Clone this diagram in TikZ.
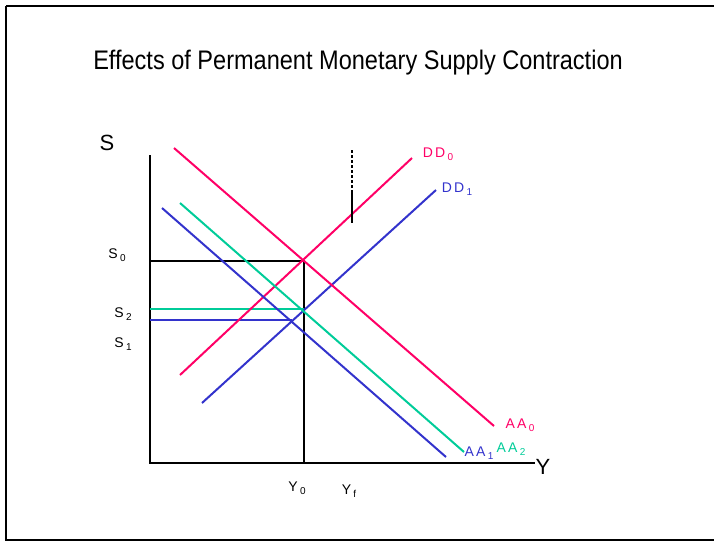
\documentclass[tikz,border=0pt]{standalone}
\usepackage{fontspec}
\setmainfont{Liberation Sans}
\definecolor{cred}{RGB}{255,0,102}
\definecolor{cblue}{RGB}{51,51,204}
\definecolor{cgreen}{RGB}{0,204,153}
\newcommand\lsub[1]{\,\raisebox{-0.35ex}{\fontsize{10}{11}\selectfont #1}}
\begin{document}
\begin{tikzpicture}[x=1pt,y=-1pt,
  axis/.style={line width=2pt,black},
  curve/.style={line width=2pt},
  lab/.style={font=\fontsize{14}{16}\selectfont,inner sep=0pt},
  big/.style={font=\fontsize{22}{24}\selectfont,inner sep=0pt}]
\useasboundingbox (0,0) rectangle (714,542);
\draw[line width=2pt] (6,6) -- (716,6);
\draw[line width=2pt] (6,6) -- (6,540) -- (716,540);
% title
\node[inner sep=0pt] (title) at (358,63) {\fontsize{22}{24}\selectfont\scalebox{1.07}[1.22]{Effects of Permanent Monetary Supply Contraction}};
% axes
\coordinate (o) at (150,463);
\coordinate (ytop) at (150,155);
\coordinate (xend) at (535,463);
\draw[axis] (ytop) -- (o) -- (xend);
\node[big] (S) at (107,143) {S};
\node[big] (Y) at (543,467) {Y};
% equilibrium lines
\coordinate (e0) at (304,261);
\coordinate (s0) at (150,261);
\coordinate (y0) at (304,463);
\draw[axis] (s0) -- (e0) -- (y0);
\coordinate (s2) at (150,309);
\coordinate (e2) at (304,309);
\draw[curve,cgreen] (s2) -- (e2);
\coordinate (s1) at (150,320);
\coordinate (e1) at (292,320);
\draw[curve,cblue] (s1) -- (e1);
% DD curves
\coordinate (dd0a) at (180,375); \coordinate (dd0b) at (412,158);
\draw[curve,cred] (dd0a) -- (dd0b);
\coordinate (dd1a) at (202,403); \coordinate (dd1b) at (436,190);
\draw[curve,cblue] (dd1a) -- (dd1b);
% AA curves
\coordinate (aa0a) at (174,148); \coordinate (aa0b) at (494,426);
\draw[curve,cred] (aa0a) -- (aa0b);
\coordinate (aa2a) at (180,203); \coordinate (aa2b) at (464,452);
\draw[curve,cgreen] (aa2a) -- (aa2b);
\coordinate (aa1a) at (162,208); \coordinate (aa1b) at (446,457);
\draw[curve,cblue] (aa1a) -- (aa1b);
% vertical marker
\coordinate (va) at (352,150); \coordinate (vb) at (352,190); \coordinate (vc) at (352,223);
\draw[line width=2pt,dash pattern=on 3pt off 2pt] (va) -- (vb);
\draw[line width=2pt] (vb) -- (vc);
% labels
\node[lab] (lS0) at (117,255) {S\lsub{0}};
\node[lab] (lS2) at (123,314) {S\lsub{2}};
\node[lab] (lS1) at (123,344) {S\lsub{1}};
\node[lab] (lY0) at (297,488) {Y\lsub{0}};
\node[lab] (lYf) at (349,491) {Y\lsub{f}};
\node[lab,cred] (lDD0) at (438,154) {D\,D\lsub{0}};
\node[lab,cblue] (lDD1) at (457,189) {D\,D\lsub{1}};
\node[lab,cred] (lAA0) at (520,425) {A\,A\lsub{0}};
\node[lab,cblue] (lAA1) at (479,453) {A\,A\lsub{1}};
\node[lab,cgreen] (lAA2) at (511,449) {A\,A\lsub{2}};
\end{tikzpicture}
\end{document}
